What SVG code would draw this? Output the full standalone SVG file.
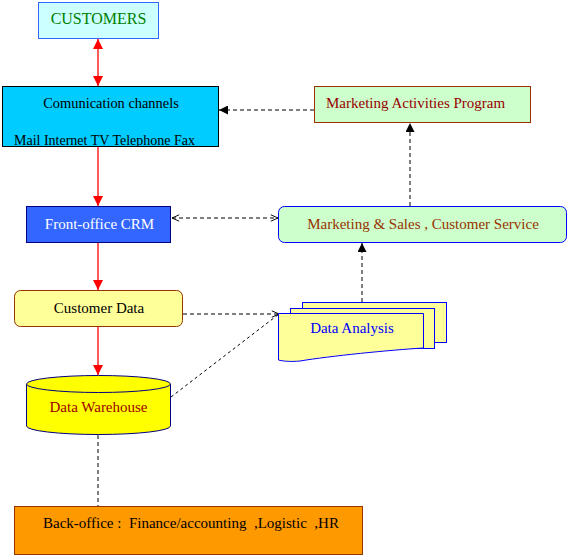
<svg xmlns="http://www.w3.org/2000/svg" width="570" height="558" viewBox="0 0 570 558">
<style>
text{font-family:"Liberation Serif","Times New Roman",serif;font-size:15px;white-space:pre}
.red{stroke:#ff0000;stroke-width:1.3;fill:none}
.dash{stroke:#000;stroke-width:1;fill:none;stroke-dasharray:4,3}
.dot{stroke:#000;stroke-width:1;fill:none;stroke-dasharray:3,3}
</style>
<defs>
<marker id="rh" viewBox="0 0 10 10" refX="10" refY="5" markerWidth="10" markerHeight="10" markerUnits="userSpaceOnUse" orient="auto-start-reverse"><path d="M0,0 L10,5 L0,10 z" fill="#ff0000"/></marker>
<marker id="bh" viewBox="0 0 10 10" refX="10" refY="5" markerWidth="9" markerHeight="9" markerUnits="userSpaceOnUse" orient="auto-start-reverse"><path d="M0,0 L10,5 L0,10 z" fill="#000"/></marker>
<marker id="oh" viewBox="0 0 10 10" refX="10" refY="5" markerWidth="8" markerHeight="8" markerUnits="userSpaceOnUse" orient="auto-start-reverse"><path d="M1,1 L10,5 L1,9" fill="none" stroke="#000" stroke-width="1.2"/></marker>
<clipPath id="cc"><rect x="2" y="86" width="216" height="60"/></clipPath>
</defs>

<g id="connectors">
<line class="red" x1="98" y1="39" x2="98" y2="86" marker-start="url(#rh)" marker-end="url(#rh)"/>
<line class="red" x1="98" y1="146" x2="98" y2="206" marker-end="url(#rh)"/>
<line class="red" x1="98" y1="242" x2="98" y2="290" marker-end="url(#rh)"/>
<line class="red" x1="98" y1="326" x2="98" y2="375" marker-end="url(#rh)"/>
<line class="dash" x1="314" y1="110" x2="219" y2="110" marker-end="url(#bh)"/>
<line class="dash" x1="410" y1="206" x2="410" y2="123" marker-end="url(#bh)"/>
<line class="dash" x1="172" y1="218" x2="278" y2="218" marker-start="url(#oh)" marker-end="url(#oh)"/>
<line class="dash" x1="183" y1="314" x2="279" y2="314" marker-end="url(#oh)"/>
<line class="dot" x1="171" y1="397" x2="279" y2="314"/>
<line class="dash" x1="362" y1="302" x2="362" y2="243" marker-end="url(#bh)"/>
<line class="dash" x1="98" y1="435" x2="98" y2="506"/>
</g>

<g id="customers">
<rect x="38.5" y="2.5" width="120" height="36" fill="#ccffff" stroke="#3366ff"/>
<text x="98.5" y="24" text-anchor="middle" fill="#008000" style="font-size:16px">CUSTOMERS</text>
</g>

<g id="comm">
<rect x="2.5" y="86.5" width="216" height="60" fill="#00ccff" stroke="#000"/>
<text x="111" y="108" text-anchor="middle" fill="#000" style="font-size:14.4px">Comunication channels</text>
<g clip-path="url(#cc)"><text x="14" y="144.5" fill="#000" style="font-size:14px">Mail Internet TV Telephone Fax</text></g>
</g>

<g id="mktprog">
<rect x="314.5" y="86.5" width="216" height="36" fill="#ccffcc" stroke="#993300"/>
<text x="326" y="108" fill="#990000">Marketing Activities Program</text>
</g>

<g id="crm">
<rect x="26.5" y="206.5" width="144" height="36" fill="#3366ff" stroke="#000080"/>
<text x="99.5" y="229" text-anchor="middle" fill="#ffffff">Front-office CRM</text>
</g>

<g id="mktsales">
<rect x="278.5" y="206.5" width="288" height="36" rx="6" fill="#ccffcc" stroke="#0000ff"/>
<text x="423" y="229" text-anchor="middle" fill="#993300">Marketing &amp; Sales , Customer Service</text>
</g>

<g id="custdata">
<rect x="14.5" y="290.5" width="168" height="36" rx="6" fill="#ffff99" stroke="#993300"/>
<text x="99" y="313" text-anchor="middle" fill="#000">Customer Data</text>
</g>

<g id="dataanalysis">
<rect x="302.5" y="302.5" width="144" height="40" fill="#ffff99" stroke="#0000ff"/>
<rect x="290.5" y="308.5" width="144" height="40" fill="#ffff99" stroke="#0000ff"/>
<path d="M278.5,313.5 H423.5 V348 C390,350 330,356 300,361 C290,362 282,361 278.5,360 Z" fill="#ffff99" stroke="#0000ff"/>
<text x="352" y="333" text-anchor="middle" fill="#0000ff">Data Analysis</text>
</g>

<g id="warehouse">
<path d="M26.5,384 V426 A72,8.5 0 0 0 170.5,426 V384" fill="#ffff00" stroke="#000080"/>
<ellipse cx="98.5" cy="384" rx="72" ry="8.5" fill="#ffff00" stroke="#000080"/>
<text x="98.5" y="412" text-anchor="middle" fill="#990000">Data Warehouse</text>
</g>

<g id="backoffice">
<rect x="14.5" y="506.5" width="348" height="48" fill="#ff9900" stroke="#993300"/>
<text x="43" y="528" fill="#000">Back-office :  Finance/accounting  ,Logistic  ,HR</text>
</g>
</svg>
